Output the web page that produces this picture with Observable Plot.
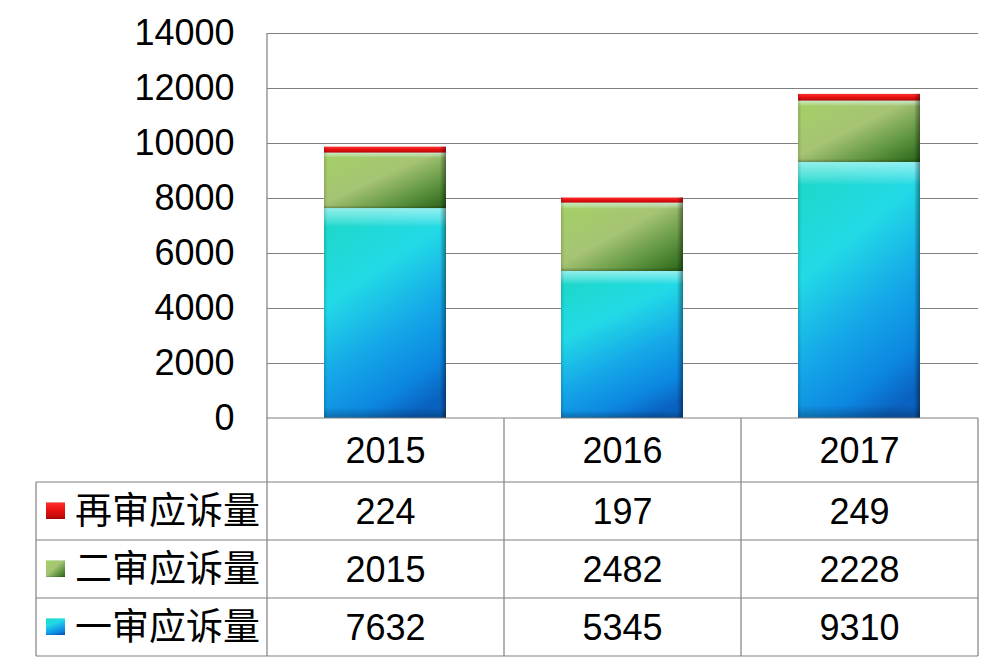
<!DOCTYPE html>
<html><head><meta charset="utf-8">
<script src="https://cdn.jsdelivr.net/npm/d3@7"></script>
<script src="https://cdn.jsdelivr.net/npm/@observablehq/plot@0.6"></script>
<style>body{margin:0;background:#fff}</style>
</head><body><div id="chart"></div>
<script>
const years = ["2015", "2016", "2017"];
const seriesNames = ["一审应诉量", "二审应诉量", "再审应诉量"];
const firstInstance = [7632, 5345, 9310];
const secondInstance = [2015, 2482, 2228];
const retrial = [224, 197, 249];
const yTicks = [0, 2000, 4000, 6000, 8000, 10000, 12000, 14000];
const tableRows = ["再审应诉量", "二审应诉量", "一审应诉量"];

const seriesValues = [firstInstance, secondInstance, retrial];
const data = seriesNames.flatMap((s, si) => years.map((y, i) => ({year: y, series: s, value: seriesValues[si][i]})));
const gradIds = ["gBlue", "gGreen", "gRed"];
const font = "'Liberation Sans', Arial, sans-serif";
const cjk = "'Noto Sans CJK SC', sans-serif";

const plot = Plot.plot({
  width: 1002, height: 669,
  marginLeft: 267, marginRight: 24, marginTop: 33, marginBottom: 251,
  style: {fontSize: "36px", fontFamily: font, background: "#fff", color: "#000", overflow: "visible"},
  x: {domain: years, paddingInner: 0.485, paddingOuter: 0.2425, axis: null},
  y: {domain: [0, 14000], ticks: yTicks, tickSize: 0, tickPadding: 33, label: null, tickFormat: d => String(d)},
  color: {type: "ordinal", domain: seriesNames, range: gradIds.map(id => `url(#${id})`)},
  marks: [
    Plot.gridY(yTicks.filter(t => t > 0), {stroke: "#808080", strokeOpacity: 1, strokeWidth: 1.2}),
    Plot.barY(data, Plot.stackY({x: "year", y: "value", z: "series", fill: "series", order: seriesNames})),
    Plot.barY(data, Plot.stackY({x: "year", y: "value", z: "series", fill: "url(#bevelV)", order: seriesNames})),
    Plot.barY(data, Plot.stackY({x: "year", y: "value", z: "series", fill: "url(#bevelH)", order: seriesNames}))
  ]
});
document.getElementById("chart").appendChild(plot);

const svg = d3.select(plot);
const defs = svg.insert("defs", ":first-child");
function grad(id, x1, y1, x2, y2, stops) {
  const g = defs.append("linearGradient").attr("id", id)
    .attr("x1", x1).attr("y1", y1).attr("x2", x2).attr("y2", y2);
  stops.forEach(([o, c, op]) => g.append("stop").attr("offset", o).attr("stop-color", c).attr("stop-opacity", op == null ? 1 : op));
}
grad("gBlue", 0.3, 0, 0.7, 1, [[0, "#1ed8cc"], [0.3, "#22dae6"], [0.6, "#15a8e8"], [0.85, "#0c86e0"], [1, "#0a62c0"]]);
grad("gGreen", 0, 0, 1, 1, [[0, "#a4d064"], [0.45, "#a6c474"], [0.75, "#5e9440"], [1, "#2a6418"]]);
grad("gRed", 0, 0, 0, 1, [[0, "#ff3030"], [0.5, "#e81010"], [1, "#b00808"]]);
grad("bevelV", 0, 0, 0, 1, [[0, "#e0ffff", 0.6], [0.05, "#e0ffff", 0.3], [0.09, "#ffffff", 0], [0.95, "#000000", 0], [1, "#000000", 0.25]]);
grad("bevelH", 0, 0, 1, 0, [[0, "#000000", 0.15], [0.03, "#000000", 0], [0.95, "#000000", 0], [1, "#000000", 0.4]]);

// Table drawn from the plot's own scales
const xs = plot.scale("x");
const ys = plot.scale("y");
const step = xs.step;
const colLeft = xs.range[0];
const colRight = colLeft + step * years.length;
const y0 = ys.apply(0);
const headerH = 64, rowH = 58, tableLeft = 36;
const g = svg.append("g").attr("stroke", "#808080").attr("stroke-width", 1.2);
const bottom = y0 + headerH + rowH * tableRows.length;
g.append("line").attr("x1", colLeft).attr("x2", colLeft).attr("y1", ys.apply(14000)).attr("y2", bottom);
g.append("line").attr("x1", colLeft).attr("x2", colRight).attr("y1", y0).attr("y2", y0);
for (let i = 1; i <= years.length; i++) {
  const x = colLeft + step * i;
  g.append("line").attr("x1", x).attr("x2", x).attr("y1", y0).attr("y2", bottom);
}
for (let r = 0; r <= tableRows.length; r++) {
  const y = y0 + headerH + rowH * r;
  g.append("line").attr("x1", tableLeft).attr("x2", colRight).attr("y1", y).attr("y2", y);
}
g.append("line").attr("x1", tableLeft).attr("x2", tableLeft).attr("y1", y0 + headerH).attr("y2", bottom);

const t = svg.append("g").attr("font-family", font).attr("font-size", 36).attr("fill", "#000").attr("text-anchor", "middle");
years.forEach((yr, i) => {
  const cx = colLeft + step * (i + 0.5);
  t.append("text").attr("x", cx).attr("y", y0 + headerH / 2).attr("dy", "0.35em").text(yr);
});
const rowValues = [retrial, secondInstance, firstInstance];
const swatch = ["gRed", "gGreen", "gBlue"];
tableRows.forEach((name, r) => {
  const cy = y0 + headerH + rowH * (r + 0.5);
  rowValues[r].forEach((v, i) => {
    t.append("text").attr("x", colLeft + step * (i + 0.5)).attr("y", cy).attr("dy", "0.35em").text(v);
  });
  svg.append("rect").attr("x", 46).attr("y", cy - 9).attr("width", 19).attr("height", 17)
    .attr("fill", `url(#${swatch[r]})`);
  svg.append("rect").attr("x", 46).attr("y", cy - 9).attr("width", 19).attr("height", 17)
    .attr("fill", "url(#bevelV)");
  svg.append("text").attr("x", 75).attr("y", cy).attr("dy", "0.36em").attr("text-anchor", "start")
    .attr("font-family", cjk).attr("font-size", 37).attr("fill", "#000").text(name);
});
</script>
</body></html>
